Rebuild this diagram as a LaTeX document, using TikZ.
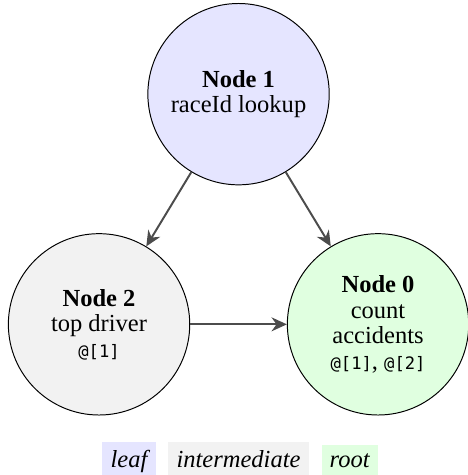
\documentclass[tikz,border=0pt]{standalone}
\usepackage{fontspec}
\setmainfont{Liberation Serif}
\setmonofont{DejaVu Sans Mono}
\usetikzlibrary{positioning, arrows.meta}
\newcommand{\slotref}[1]{\texttt{\scriptsize @[#1]}}

\begin{document}
\begin{tikzpicture}[auto,
		state/.style = {circle, draw, minimum size = 2.6cm, align = center, font = \fontsize{10}{10.4}\selectfont},
		leafnode/.style = {state, fill = blue!10},
		midnode/.style = {state, fill = black!5},
		rootnode/.style = {state, fill = green!12},
		edge/.style = {-{Stealth[length = 2.2mm, width = 2mm]}, thick, black!70},
		key/.style = {font = \itshape}]
		\useasboundingbox (-1.42, -2.16) rectangle (5.28, 4.65);
		%%%%%%%%%%%%%
		\node[leafnode] (n1) at (2, 3.3) {\textbf{Node 1}\\raceId lookup};
		\node[midnode] (n2) at (0, 0) {\textbf{Node 2}\\top driver\\\slotref{1}};
		\node[rootnode] (n0) at (4, 0) {\textbf{Node 0}\\count\\accidents\\\slotref{1}, \slotref{2}};
		%%%%%%%%%%%%%
		\node[key, fill = black!5, anchor = base] (kmid) at (2, -2.05) {intermediate};
		\node[key, fill = blue!10, base left = 0.17cm of kmid] (kleaf) {leaf};
		\node[key, fill = green!12, base right = 0.17cm of kmid] (kroot) {root};
		%%%%%%%%%%%%%
		\draw[edge] (n1) to (n2);
		\draw[edge] (n1) to (n0);
		\draw[edge] (n2) to (n0);
\end{tikzpicture}
\end{document}
